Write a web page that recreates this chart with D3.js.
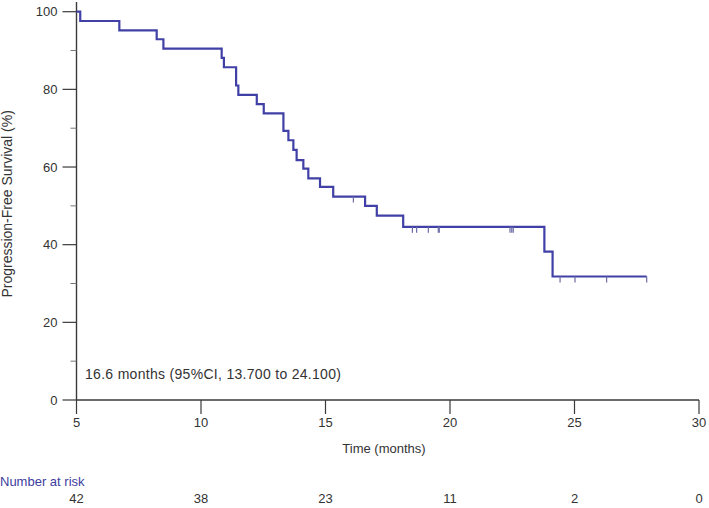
<!DOCTYPE html>
<html><head><meta charset="utf-8">
<script src="https://cdn.jsdelivr.net/npm/d3@7"></script>
<style>
body{margin:0;background:#fff;}
svg{display:block;font-family:"Liberation Sans",Arial,sans-serif;}
</style></head>
<body><svg id="c" width="709" height="508"></svg>
<script>
// KM step data: time (months) and survival (%) after each event
const eventTimes = [5.0, 5.15, 6.72, 8.22, 8.49, 10.83, 10.92, 11.41, 11.5, 12.24, 12.52, 13.31, 13.51, 13.71, 13.84, 14.11, 14.31, 14.78, 15.31, 16.59, 17.06, 18.12, 23.79, 24.12];
const survival   = [100, 97.6, 95.2, 92.9, 90.5, 88.1, 85.7, 81.0, 78.6, 76.2, 73.8, 69.3, 66.9, 64.4, 61.8, 59.6, 57.1, 54.9, 52.4, 50.0, 47.5, 44.6, 38.2, 31.8];
const lastTime = 27.9;
// censored observations
const censorTimes = [16.12, 18.49, 18.66, 19.13, 19.53, 19.57, 22.41, 22.48, 22.54, 24.42, 25.02, 26.29, 27.9];
// axes
const xTicks = [5, 10, 15, 20, 25, 30];
const yTicks = [0, 20, 40, 60, 80, 100];
const yMinorTicks = [10, 30, 50, 70, 90];
const atRisk = [42, 38, 23, 11, 2, 0];
const annotation = "16.6 months (95%CI, 13.700 to 24.100)";

const svg = d3.select("#c");
const x = d3.scaleLinear().domain([5, 30]).range([76.5, 699]);
const y = d3.scaleLinear().domain([0, 100]).range([400, 11.7]);
const axisCol = "#3a3a3a", textCol = "#333", lineCol = "#4040a6";

// y axis
const gy = svg.append("g").attr("transform", `translate(${x(5)},0)`);
gy.append("line").attr("y1", 2).attr("y2", y(0)).attr("stroke", axisCol).attr("stroke-width", 1.4);
gy.selectAll(".mj").data(yTicks).join("line").attr("x1", -14).attr("x2", 0)
  .attr("y1", d => y(d)).attr("y2", d => y(d)).attr("stroke", axisCol).attr("stroke-width", 1.2);
gy.selectAll(".mn").data(yMinorTicks).join("line").attr("x1", -6).attr("x2", 0)
  .attr("y1", d => y(d)).attr("y2", d => y(d)).attr("stroke", "#777").attr("stroke-width", 1);
gy.selectAll("text").data(yTicks).join("text").attr("x", -19).attr("y", d => y(d)).attr("dy", "0.35em")
  .attr("text-anchor", "end").attr("font-size", 13).attr("fill", textCol).text(d => d);

// x axis
const gx = svg.append("g").attr("transform", `translate(0,${y(0)})`);
gx.append("line").attr("x1", x(5)).attr("x2", x(30)).attr("stroke", axisCol).attr("stroke-width", 1.4);
gx.selectAll("line.t").data(xTicks).join("line").attr("class", "t").attr("x1", d => x(d)).attr("x2", d => x(d))
  .attr("y1", 0).attr("y2", 14).attr("stroke", axisCol).attr("stroke-width", 1.2);
gx.selectAll("text").data(xTicks).join("text").attr("x", d => x(d)).attr("y", 27)
  .attr("text-anchor", "middle").attr("font-size", 13).attr("fill", textCol).text(d => d);

svg.append("text").attr("x", 384).attr("y", 453).attr("text-anchor", "middle")
  .attr("font-size", 13).attr("fill", textCol).text("Time (months)");

svg.append("text").attr("transform", `translate(12,${y(50) - 2}) rotate(-90)`).attr("text-anchor", "middle")
  .attr("font-size", 14).attr("fill", textCol).text("Progression-Free Survival (%)");

// KM curve
const pts = eventTimes.map((t, i) => [t, survival[i]]);
pts.push([lastTime, survival[survival.length - 1]]);
const line = d3.line().x(d => x(d[0])).y(d => y(d[1])).curve(d3.curveStepAfter);
svg.append("path").datum(pts).attr("d", line).attr("fill", "none").attr("stroke", lineCol).attr("stroke-width", 2.2);

// censor marks
function survAt(t) {
  let s = 100;
  for (let i = 0; i < eventTimes.length; i++) if (eventTimes[i] <= t) s = survival[i];
  return s;
}
svg.selectAll("line.cens").data(censorTimes).join("line").attr("class", "cens")
  .attr("x1", d => x(d)).attr("x2", d => x(d)).attr("y1", d => y(survAt(d))).attr("y2", d => y(survAt(d)) + 6)
  .attr("stroke", "#6a6aa8").attr("stroke-width", 1.2);

// annotation
svg.append("text").attr("x", 85).attr("y", 374).attr("dy", "0.35em").attr("font-size", 14)
  .attr("letter-spacing", 0.3).attr("fill", textCol).text(annotation);

// number at risk
svg.append("text").attr("x", 0).attr("y", 481).attr("dy", "0.35em").attr("font-size", 13)
  .attr("fill", "#3d3d9e").text("Number at risk");
svg.selectAll("text.risk").data(atRisk).join("text").attr("class", "risk")
  .attr("x", (d, i) => x(xTicks[i])).attr("y", 498).attr("dy", "0.35em").attr("text-anchor", "middle")
  .attr("font-size", 13).attr("fill", textCol).text(d => d);
</script></body></html>
